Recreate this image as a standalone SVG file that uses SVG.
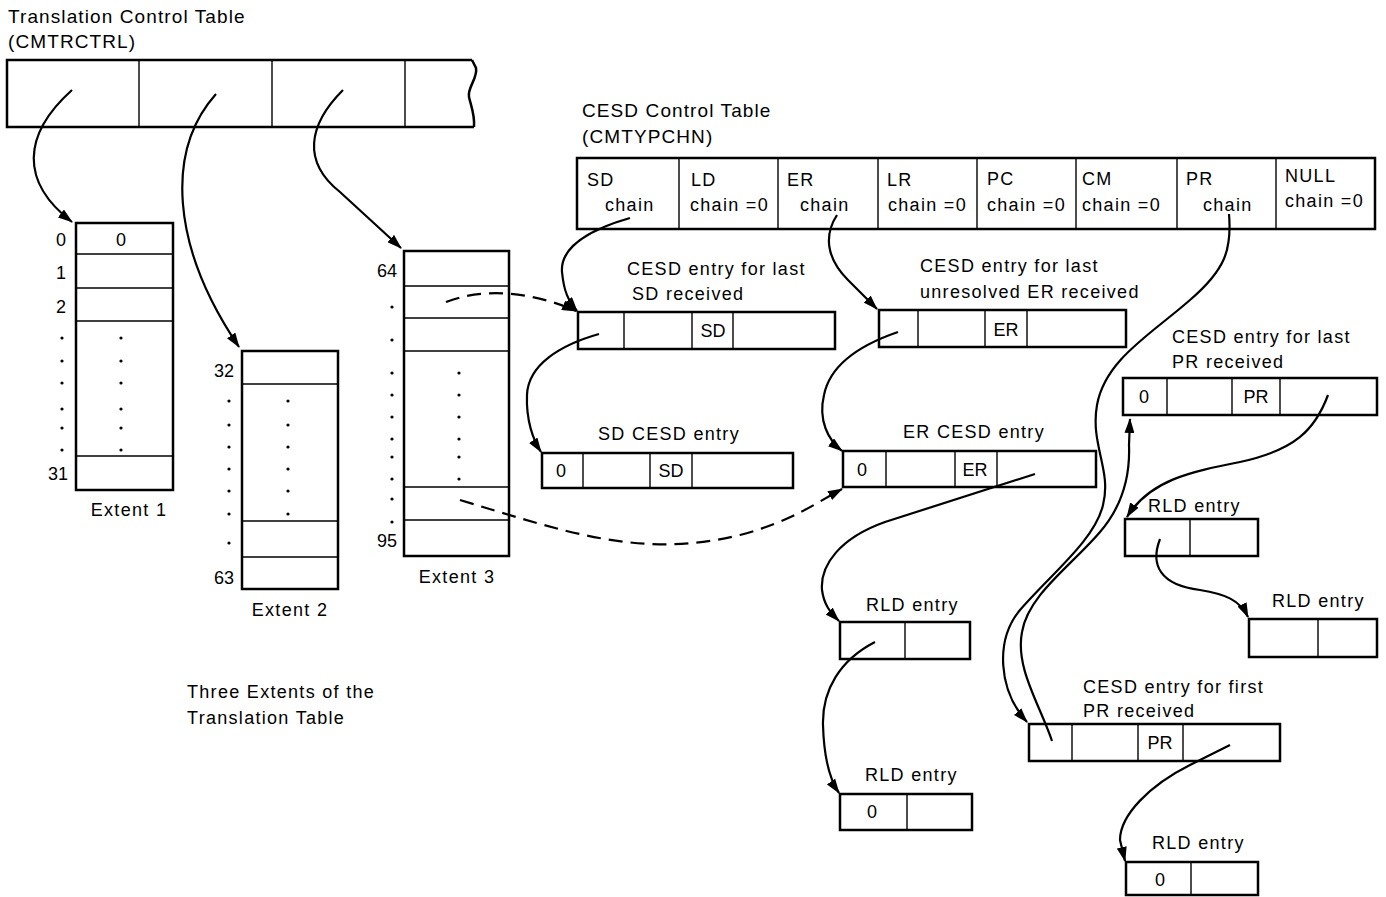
<svg xmlns="http://www.w3.org/2000/svg" width="1386" height="897" viewBox="0 0 1386 897">
<style>
text{font-family:"Liberation Sans","DejaVu Sans",sans-serif;fill:#000;}
.t{font-size:19px;letter-spacing:1.1px;}
.c{font-size:18px;text-anchor:middle;}
.l{font-size:18px;letter-spacing:1.3px;}
.box{fill:#fff;stroke:#000;stroke-width:2.5;}
.div{stroke:#000;stroke-width:1.4;fill:none;}
.conn{fill:none;stroke:#000;stroke-width:2.2;}
.dash{fill:none;stroke:#000;stroke-width:2.2;stroke-dasharray:14 8;}
.dot{fill:#000;}
</style>
<defs>
<marker id="ah" markerWidth="15" markerHeight="10" refX="14" refY="5" orient="auto" markerUnits="userSpaceOnUse">
<path d="M0,0 L15,5 L0,10 z" fill="#000"/>
</marker>
</defs>

<g id="tct">
<text class="t" x="8" y="23">Translation Control Table</text>
<text class="t" x="8" y="48">(CMTRCTRL)</text>
<path d="M474,127 L7,127 L7,60 L472,60" class="box" fill="none"/>
<path d="M472,60 L476,68 C478,78 467,88 469,97 C471,106 475,115 474,127" fill="none" stroke="#000" stroke-width="2.5"/>
<line class="div" x1="139" y1="60" x2="139" y2="127"/>
<line class="div" x1="272" y1="60" x2="272" y2="127"/>
<line class="div" x1="405" y1="60" x2="405" y2="127"/>
</g>

<g id="extent1">
<rect class="box" x="76" y="223" width="97" height="267"/>
<line class="div" x1="76" y1="254" x2="173" y2="254"/>
<line class="div" x1="76" y1="288" x2="173" y2="288"/>
<line class="div" x1="76" y1="321" x2="173" y2="321"/>
<line class="div" x1="76" y1="456" x2="173" y2="456"/>
<text class="c" x="121" y="246">0</text>
<text class="c" x="61" y="246">0</text>
<text class="c" x="61" y="279">1</text>
<text class="c" x="61" y="313">2</text>
<text class="c" x="58" y="480">31</text>
<g class="dot">
<circle cx="62" cy="338" r="1.6"/><circle cx="62" cy="361" r="1.6"/><circle cx="62" cy="383" r="1.6"/><circle cx="62" cy="409" r="1.6"/><circle cx="62" cy="428" r="1.6"/><circle cx="62" cy="450" r="1.6"/>
<circle cx="121" cy="338" r="1.6"/><circle cx="121" cy="361" r="1.6"/><circle cx="121" cy="383" r="1.6"/><circle cx="121" cy="409" r="1.6"/><circle cx="121" cy="428" r="1.6"/><circle cx="121" cy="450" r="1.6"/>
</g>
<text class="l" x="129" y="516" text-anchor="middle">Extent 1</text>
</g>

<g id="extent2">
<rect class="box" x="242" y="351" width="96" height="238"/>
<line class="div" x1="242" y1="384" x2="338" y2="384"/>
<line class="div" x1="242" y1="521" x2="338" y2="521"/>
<line class="div" x1="242" y1="557" x2="338" y2="557"/>
<text class="c" x="224" y="377">32</text>
<text class="c" x="224" y="584">63</text>
<g class="dot">
<circle cx="229" cy="401" r="1.6"/><circle cx="229" cy="425" r="1.6"/><circle cx="229" cy="447" r="1.6"/><circle cx="229" cy="469" r="1.6"/><circle cx="229" cy="491" r="1.6"/><circle cx="229" cy="514" r="1.6"/><circle cx="229" cy="543" r="1.6"/>
<circle cx="288" cy="401" r="1.6"/><circle cx="288" cy="425" r="1.6"/><circle cx="288" cy="447" r="1.6"/><circle cx="288" cy="469" r="1.6"/><circle cx="288" cy="491" r="1.6"/><circle cx="288" cy="514" r="1.6"/>
</g>
<text class="l" x="290" y="616" text-anchor="middle">Extent 2</text>
</g>

<g id="extent3">
<rect class="box" x="404" y="251" width="105" height="305"/>
<line class="div" x1="404" y1="286" x2="509" y2="286"/>
<line class="div" x1="404" y1="318" x2="509" y2="318"/>
<line class="div" x1="404" y1="351" x2="509" y2="351"/>
<line class="div" x1="404" y1="487" x2="509" y2="487"/>
<line class="div" x1="404" y1="520" x2="509" y2="520"/>
<text class="c" x="387" y="277">64</text>
<text class="c" x="387" y="547">95</text>
<g class="dot">
<circle cx="392" cy="307" r="1.6"/><circle cx="392" cy="340" r="1.6"/><circle cx="392" cy="373" r="1.6"/><circle cx="392" cy="395" r="1.6"/><circle cx="392" cy="417" r="1.6"/><circle cx="392" cy="439" r="1.6"/><circle cx="392" cy="457" r="1.6"/><circle cx="392" cy="479" r="1.6"/><circle cx="392" cy="499" r="1.6"/><circle cx="392" cy="522" r="1.6"/>
<circle cx="459" cy="373" r="1.6"/><circle cx="459" cy="395" r="1.6"/><circle cx="459" cy="417" r="1.6"/><circle cx="459" cy="439" r="1.6"/><circle cx="459" cy="457" r="1.6"/><circle cx="459" cy="479" r="1.6"/>
</g>
<text class="l" x="457" y="583" text-anchor="middle">Extent 3</text>
</g>

<g id="caption">
<text class="l" x="187" y="698">Three Extents of the</text>
<text class="l" x="187" y="724">Translation Table</text>
</g>

<g id="cesdctl">
<text class="t" x="582" y="117">CESD Control Table</text>
<text class="t" x="582" y="143">(CMTYPCHN)</text>
<rect class="box" x="577" y="158" width="798" height="71"/>
<line class="div" x1="679" y1="158" x2="679" y2="229"/>
<line class="div" x1="778" y1="158" x2="778" y2="229"/>
<line class="div" x1="878" y1="158" x2="878" y2="229"/>
<line class="div" x1="977" y1="158" x2="977" y2="229"/>
<line class="div" x1="1076" y1="158" x2="1076" y2="229"/>
<line class="div" x1="1177" y1="158" x2="1177" y2="229"/>
<line class="div" x1="1276" y1="158" x2="1276" y2="229"/>
<text class="l" x="587" y="186">SD</text>
<text class="l" x="605" y="211">chain</text>
<text class="l" x="691" y="186">LD</text>
<text class="l" x="690" y="211">chain =0</text>
<text class="l" x="787" y="186">ER</text>
<text class="l" x="800" y="211">chain</text>
<text class="l" x="887" y="186">LR</text>
<text class="l" x="888" y="211">chain =0</text>
<text class="l" x="987" y="185">PC</text>
<text class="l" x="987" y="211">chain =0</text>
<text class="l" x="1082" y="185">CM</text>
<text class="l" x="1082" y="211">chain =0</text>
<text class="l" x="1186" y="185">PR</text>
<text class="l" x="1203" y="211">chain</text>
<text class="l" x="1285" y="182">NULL</text>
<text class="l" x="1285" y="207">chain =0</text>
</g>

<g id="sdlast">
<text class="l" x="627" y="275">CESD entry for last</text>
<text class="l" x="632" y="300">SD received</text>
<rect class="box" x="578" y="312" width="257" height="37"/>
<line class="div" x1="624" y1="312" x2="624" y2="349"/>
<line class="div" x1="692" y1="312" x2="692" y2="349"/>
<line class="div" x1="733" y1="312" x2="733" y2="349"/>
<text class="c" x="713" y="337">SD</text>
</g>

<g id="sdcesd">
<text class="l" x="598" y="440">SD CESD entry</text>
<rect class="box" x="542" y="453" width="251" height="35"/>
<line class="div" x1="583" y1="453" x2="583" y2="488"/>
<line class="div" x1="650" y1="453" x2="650" y2="488"/>
<line class="div" x1="692" y1="453" x2="692" y2="488"/>
<text class="c" x="561" y="477">0</text>
<text class="c" x="671" y="477">SD</text>
</g>

<g id="erlast">
<text class="l" x="920" y="272">CESD entry for last</text>
<text class="l" x="920" y="298">unresolved ER received</text>
<rect class="box" x="879" y="310" width="247" height="37"/>
<line class="div" x1="918" y1="310" x2="918" y2="347"/>
<line class="div" x1="985" y1="310" x2="985" y2="347"/>
<line class="div" x1="1027" y1="310" x2="1027" y2="347"/>
<text class="c" x="1006" y="336">ER</text>
</g>

<g id="ercesd">
<text class="l" x="903" y="438">ER CESD entry</text>
<rect class="box" x="843" y="451" width="253" height="36"/>
<line class="div" x1="886" y1="451" x2="886" y2="487"/>
<line class="div" x1="955" y1="451" x2="955" y2="487"/>
<line class="div" x1="997" y1="451" x2="997" y2="487"/>
<text class="c" x="862" y="476">0</text>
<text class="c" x="975" y="476">ER</text>
</g>

<g id="rld1">
<text class="l" x="866" y="611">RLD entry</text>
<rect class="box" x="840" y="622" width="130" height="37"/>
<line class="div" x1="905" y1="622" x2="905" y2="659"/>
</g>

<g id="rld2">
<text class="l" x="865" y="781">RLD entry</text>
<rect class="box" x="840" y="794" width="132" height="36"/>
<line class="div" x1="907" y1="794" x2="907" y2="830"/>
<text class="c" x="872" y="818">0</text>
</g>

<g id="prlast">
<text class="l" x="1172" y="343">CESD entry for last</text>
<text class="l" x="1172" y="368">PR received</text>
<rect class="box" x="1123" y="378" width="254" height="37"/>
<line class="div" x1="1167" y1="378" x2="1167" y2="415"/>
<line class="div" x1="1232" y1="378" x2="1232" y2="415"/>
<line class="div" x1="1280" y1="378" x2="1280" y2="415"/>
<text class="c" x="1144" y="403">0</text>
<text class="c" x="1256" y="403">PR</text>
</g>

<g id="rld3">
<text class="l" x="1148" y="512">RLD entry</text>
<rect class="box" x="1125" y="519" width="133" height="37"/>
<line class="div" x1="1190" y1="519" x2="1190" y2="556"/>
</g>

<g id="rld4">
<text class="l" x="1272" y="607">RLD entry</text>
<rect class="box" x="1249" y="619" width="128" height="38"/>
<line class="div" x1="1318" y1="619" x2="1318" y2="657"/>
</g>

<g id="prfirst">
<text class="l" x="1083" y="693">CESD entry for first</text>
<text class="l" x="1083" y="717">PR received</text>
<rect class="box" x="1029" y="724" width="251" height="37"/>
<line class="div" x1="1072" y1="724" x2="1072" y2="761"/>
<line class="div" x1="1138" y1="724" x2="1138" y2="761"/>
<line class="div" x1="1183" y1="724" x2="1183" y2="761"/>
<text class="c" x="1160" y="749">PR</text>
</g>

<g id="rld5">
<text class="l" x="1152" y="849">RLD entry</text>
<rect class="box" x="1126" y="862" width="132" height="33"/>
<line class="div" x1="1191" y1="862" x2="1191" y2="895"/>
<text class="c" x="1160" y="886">0</text>
</g>

<g id="connectors">
<path class="conn" marker-end="url(#ah)" d="M72,90 C22,135 20,182 72,222"/>
<path class="conn" marker-end="url(#ah)" d="M216,94 C166,150 170,245 239,347"/>
<path class="conn" marker-end="url(#ah)" d="M343,90 C308,125 302,162 340,192 L401,248"/>
<path class="dash" marker-end="url(#ah)" d="M446,302 C490,285 540,295 576,311"/>
<path class="dash" marker-end="url(#ah)" d="M460,500 C560,530 640,560 740,535 C790,522 818,502 842,489"/>
<path class="conn" marker-end="url(#ah)" d="M630,218 C595,228 560,245 562,272 C564,292 568,300 577,311"/>
<path class="conn" marker-end="url(#ah)" d="M837,215 C824,235 826,258 848,280 L877,309"/>
<path class="conn" marker-end="url(#ah)" d="M599,334 C560,345 528,365 527,395 C526,420 533,440 541,452"/>
<path class="conn" marker-end="url(#ah)" d="M898,332 C860,345 830,365 824,395 C818,420 828,440 842,451"/>
<path class="conn" marker-end="url(#ah)" d="M1035,474 L885,522 C840,538 820,565 822,590 C824,605 830,612 839,621"/>
<path class="conn" marker-end="url(#ah)" d="M875,642 C840,660 822,690 823,725 C824,760 830,780 839,793"/>
<path class="conn" marker-end="url(#ah)" d="M1229,214 C1232,250 1225,270 1190,300 C1150,335 1105,360 1097,405 C1090,445 1112,470 1103,505 C1095,540 1050,575 1020,610 C995,640 998,690 1027,722"/>
<path class="conn" marker-end="url(#ah)" d="M1052,741 C1040,705 1015,668 1022,632 C1028,595 1072,565 1100,532 C1125,503 1130,470 1129,445 L1130,419"/>
<path class="conn" marker-end="url(#ah)" d="M1328,395 C1315,430 1295,450 1240,462 C1190,472 1150,480 1127,517"/>
<path class="conn" marker-end="url(#ah)" d="M1160,539 C1150,565 1160,585 1200,590 C1225,594 1240,600 1248,617"/>
<path class="conn" marker-end="url(#ah)" d="M1230,745 L1190,765 C1150,785 1120,815 1120,840 L1125,861"/>
</g>
</svg>
